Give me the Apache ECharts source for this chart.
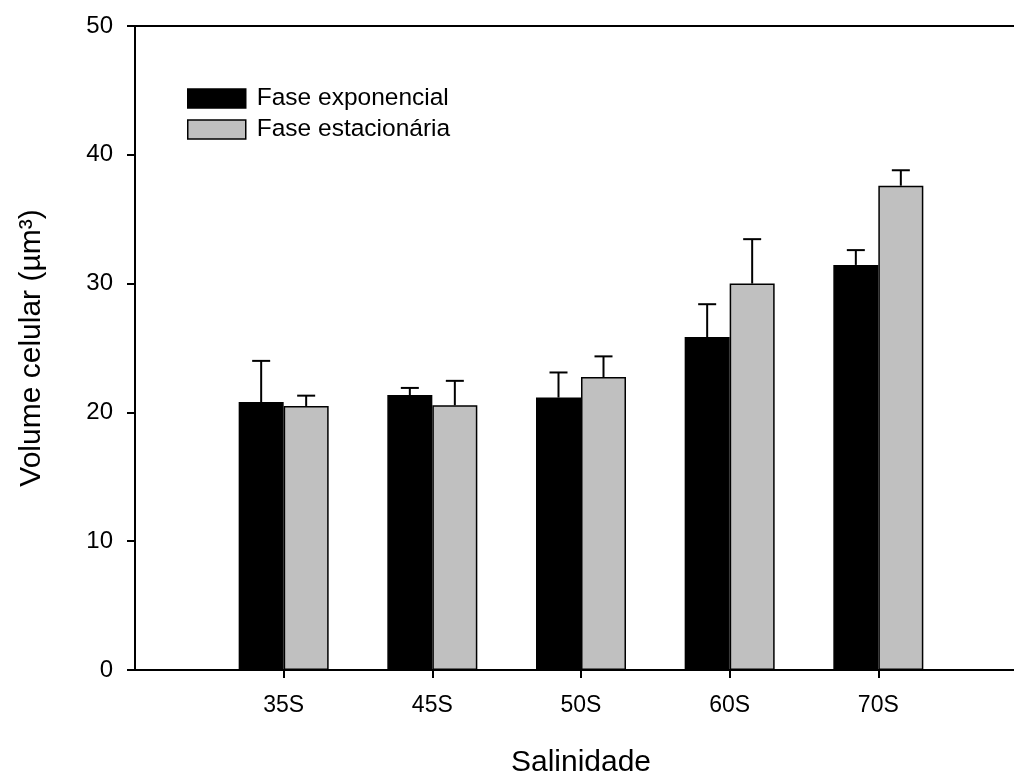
<!DOCTYPE html>
<html>
<head>
    <meta charset="utf-8">
    <script src="https://cdn.jsdelivr.net/npm/echarts@6/dist/echarts.min.js"></script>
    <style>
        html, body { margin: 0; padding: 0; background: #fff; }
        #main { width: 1014px; height: 772px; }
    </style>
</head>
<body>
<div id="main"></div>
<script type="text/javascript">
    // categorias (com posições vazias nas pontas)
    var categorias = ['', '35S', '45S', '50S', '60S', '70S', ''];
    var exponencial = [null, 20.8, 21.35, 21.15, 25.85, 31.45];
    var exponencialErro = [null, 3.2, 0.55, 1.95, 2.55, 1.15];
    var estacionaria = [null, 20.5, 20.55, 22.75, 30.0, 37.6];
    var estacionariaErro = [null, 0.8, 1.9, 1.6, 3.45, 1.2];

    var fonte = 'Liberation Sans, Arial, sans-serif';
    var larguraBarra = 45;

    var myChart = echarts.init(document.getElementById('main'));

    function erroSerie(valores, erros, lado) {
        var dados = [];
        for (var i = 0; i < valores.length; i++) {
            if (valores[i] != null) dados.push([i, valores[i], erros[i]]);
        }
        return {
            type: 'custom',
            silent: true,
            z: 5,
            data: dados,
            renderItem: function (params, api) {
                var base = api.coord([api.value(0), api.value(1)]);
                var topo = api.coord([api.value(0), api.value(1) + api.value(2)]);
                var x = base[0] + lado * larguraBarra / 2;
                var estilo = { stroke: '#000', lineWidth: 2 };
                return {
                    type: 'group',
                    children: [
                        { type: 'line', shape: { x1: x, y1: base[1], x2: x, y2: topo[1] }, style: estilo },
                        { type: 'line', shape: { x1: x - 9, y1: topo[1], x2: x + 9, y2: topo[1] }, style: estilo }
                    ]
                };
            }
        };
    }

    var opt = {
        animation: false,
        grid: {
            left: 135,
            top: 26,
            bottom: 102,
            right: -13,
            outerBoundsMode: 'none',
            containLabel: false,
            show: true,
            borderColor: '#000',
            borderWidth: 2
        },
        legend: {
            left: 182,
            top: 81,
            orient: 'vertical',
            icon: 'rect',
            itemWidth: 58,
            itemHeight: 19,
            itemGap: 6,
            itemStyle: { borderColor: '#000', borderWidth: 1.5 },
            textStyle: { fontFamily: fonte, fontSize: 24.5, lineHeight: 20, color: '#000', padding: [0, 0, 0, 6] },
            data: ['Fase exponencial', 'Fase estacionária']
        },
        xAxis: {
            type: 'category',
            data: categorias,
            boundaryGap: false,
            name: 'Salinidade',
            nameLocation: 'middle',
            nameGap: 78,
            nameTextStyle: { fontFamily: fonte, fontSize: 30, color: '#000' },
            axisLine: { lineStyle: { color: '#000', width: 2 } },
            axisTick: {
                length: 8,
                lineStyle: { color: '#000', width: 2 },
                interval: function (index) { return index > 0 && index < categorias.length - 1; }
            },
            axisLabel: {
                interval: 0,
                margin: 24,
                fontFamily: fonte,
                fontSize: 23,
                color: '#000'
            },
            splitLine: { show: false }
        },
        yAxis: {
            type: 'value',
            min: 0,
            max: 50,
            interval: 10,
            name: 'Volume celular (µm³)',
            nameLocation: 'middle',
            nameGap: 88,
            nameTextStyle: { fontFamily: fonte, fontSize: 30, color: '#000' },
            axisLine: { show: true, lineStyle: { color: '#000', width: 2 } },
            axisTick: { show: true, length: 8, lineStyle: { color: '#000', width: 2 } },
            axisLabel: { margin: 22, fontFamily: fonte, fontSize: 24, color: '#000' },
            splitLine: { show: false }
        },
        series: [
            {
                name: 'Fase exponencial',
                type: 'bar',
                data: exponencial,
                barWidth: larguraBarra,
                barGap: '0%',
                itemStyle: { color: '#000', borderColor: '#000', borderWidth: 1.5 }
            },
            {
                name: 'Fase estacionária',
                type: 'bar',
                data: estacionaria,
                barWidth: larguraBarra,
                barGap: '0%',
                itemStyle: { color: '#c0c0c0', borderColor: '#000', borderWidth: 1.5 }
            },
            erroSerie(exponencial, exponencialErro, -1),
            erroSerie(estacionaria, estacionariaErro, 1)
        ]
    };

    myChart.setOption(option = opt);
</script>
</body>
</html>
